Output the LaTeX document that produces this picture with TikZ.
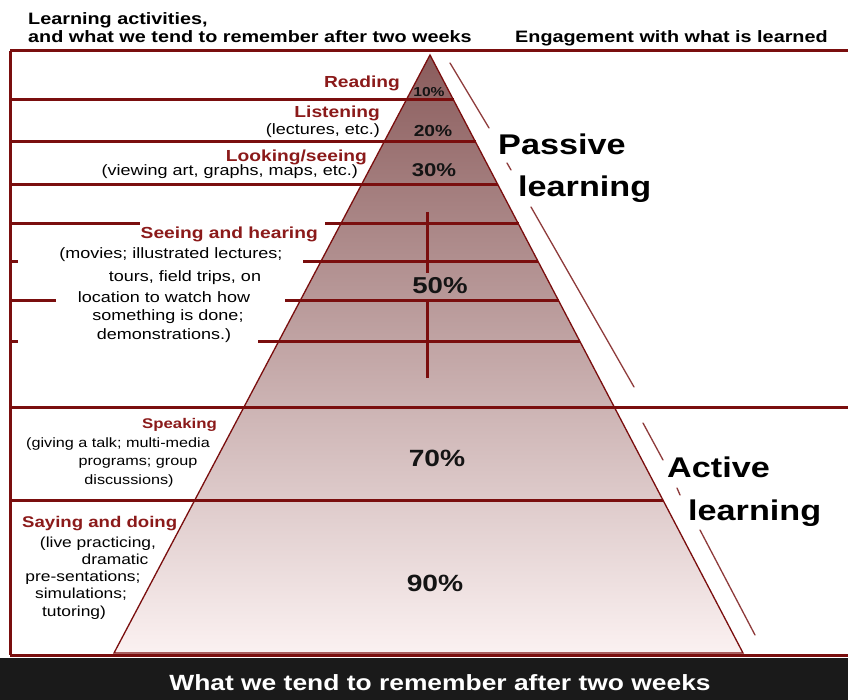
\documentclass[tikz,border=0pt]{standalone}
\usepackage{fontspec}
\setmainfont{Liberation Sans}[FakeStretch=1.2]
\definecolor{pmaroon}{HTML}{7A0E0E}
\definecolor{lblred}{HTML}{8B1A1A}
\definecolor{brkred}{HTML}{8E3B3B}
\definecolor{pyrtop}{HTML}{8A5C5C}
\definecolor{pyrbot}{HTML}{FBF1F1}
\definecolor{band}{HTML}{1A1A1A}
\definecolor{pcttxt}{HTML}{141414}
\newcommand{\fsz}[1]{\fontsize{#1}{#1}\selectfont}
\begin{document}
\begin{tikzpicture}[x=1pt,y=-1pt,
  hline/.style={draw=pmaroon, line width=3pt},
  edge/.style={draw=pmaroon, line width=1.3pt},
  brk/.style={draw=brkred, line width=1.3pt, line cap=round},
  head/.style={font=\fsz{16.5}\bfseries, text=black, inner sep=0pt},
  lbl/.style={font=\fsz{16}\bfseries, text=lblred, inner sep=0pt},
  desc/.style={font=\fsz{15}, text=black, inner sep=0pt},
  sdesc/.style={font=\fsz{13.5}, text=black, inner sep=0pt},
  pct/.style={font=\bfseries, text=pcttxt, inner sep=0pt},
  big/.style={font=\fsz{28.5}\bfseries, text=black, inner sep=0pt}
]
\useasboundingbox (0,0) rectangle (848,700);
\fill[white] (0,0) rectangle (848,700);

% pyramid
\coordinate (apex) at (430,55);
\coordinate (bl) at (114,653);
\coordinate (br) at (743,653);
\shade[top color=pyrtop, bottom color=pyrbot] (apex) -- (br) -- (bl) -- cycle;
\draw[edge] (apex) -- (br) -- (bl) -- cycle;

% frame lines
\coordinate (tl) at (10,51);
\coordinate (tr) at (848,51);
\coordinate (lb) at (10,655);
\coordinate (rb) at (848,655);
\draw[hline] (tl) -- (tr);
\draw[hline] (tl) -- (lb);
\draw[hline] (lb) -- (rb);
\draw[hline] (10,407) -- (848,407);

% section lines
\draw[hline] (10,100) -- (453.6,100);
\draw[hline] (10,142) -- (475.5,142);
\draw[hline] (10,185) -- (498,185);
\draw[hline] (10,224) -- (140,224);
\draw[hline] (325,224) -- (518.5,224);
\draw[hline] (10,262) -- (18,262);
\draw[hline] (303,262) -- (538.3,262);
\draw[hline] (10,301) -- (56,301);
\draw[hline] (285,301) -- (558.8,301);
\draw[hline] (10,341) -- (18,341);
\draw[hline] (258,341) -- (579.7,341);
\draw[hline] (10,500) -- (662.9,500);
\draw[hline] (427,212) -- (427,273);
\draw[hline] (427,300) -- (427,378);

% passive / active brackets
\draw[brk] (450,63) -- (489,128);
\draw[brk] (507,163) -- (511,170);
\draw[brk] (531,207) -- (634,387);
\draw[brk] (643,423) -- (663,460);
\draw[brk] (677,488) -- (680,495);
\draw[brk] (700,530) -- (755,635);

% bottom band
\fill[band] (0,658) rectangle (848,700);
\node[font=\fsz{22}\bfseries, text=white, inner sep=0pt] (foot) at (440,683) {What we tend to remember after two weeks};

% header
\node[head, anchor=base west] (h1) at (28,25) {Learning activities,};
\node[head, anchor=base west] (h2) at (28,43) {and what we tend to remember after two weeks};
\node[head, anchor=base west] (h3) at (515,43) {Engagement with what is learned};

% labels
\node[lbl, anchor=base east] (reading) at (400,88) {Reading};
\node[lbl, anchor=base east] (listening) at (380,118) {Listening};
\node[desc, anchor=base east] (listd) at (380,135) {(lectures, etc.)};
\node[lbl, anchor=base east] (looking) at (367,162) {Looking/seeing};
\node[desc, anchor=base east] (lookd) at (358,176) {(viewing art, graphs, maps, etc.)};
\node[lbl, anchor=base east] (seeing) at (318,239) {Seeing and hearing};
\node[desc, anchor=base] (sd1) at (171,259) {(movies; illustrated lectures;};
\node[desc, anchor=base] (sd2) at (185,282) {tours, field trips, on};
\node[desc, anchor=base] (sd3) at (164,303) {location to watch how};
\node[desc, anchor=base] (sd4) at (168,321) {something is done;};
\node[desc, anchor=base] (sd5) at (164,340) {demonstrations.)};
\node[lbl, font=\fsz{14}\bfseries, anchor=base east] (speaking) at (217,428) {Speaking};
\node[sdesc, anchor=base] (sp1) at (118,447) {(giving a talk; multi-media};
\node[sdesc, anchor=base] (sp2) at (138,465) {programs; group};
\node[sdesc, anchor=base] (sp3) at (129,484) {discussions)};
\node[lbl, font=\fsz{15.5}\bfseries, anchor=base west] (saying) at (22,527) {Saying and doing};
\node[sdesc, font=\fsz{14.5}, anchor=base] (sa1) at (98,547) {(live practicing,};
\node[sdesc, font=\fsz{14.5}, anchor=base] (sa2) at (115,564) {dramatic};
\node[sdesc, font=\fsz{14.5}, anchor=base] (sa3) at (83,581) {pre-sentations;};
\node[sdesc, font=\fsz{14.5}, anchor=base] (sa4) at (81,598) {simulations;};
\node[sdesc, font=\fsz{14.5}, anchor=base] (sa5) at (74,616) {tutoring)};

% percentages
\node[pct, font=\fsz{13}\bfseries] (p10) at (429,92) {10\%};
\node[pct, font=\fsz{16}\bfseries] (p20) at (433,131) {20\%};
\node[pct, font=\fsz{18.5}\bfseries] (p30) at (434,170) {30\%};
\node[pct, font=\fsz{23}\bfseries] (p50) at (440,286) {50\%};
\node[pct, font=\fsz{23.5}\bfseries] (p70) at (437,458) {70\%};
\node[pct, font=\fsz{23.5}\bfseries] (p90) at (435,583) {90\%};

% engagement
\node[big, anchor=base west] (passive) at (498,155) {Passive};
\node[big, anchor=base west] (plearn) at (518,197) {learning};
\node[big, anchor=base west] (active) at (667,477) {Active};
\node[big, anchor=base west] (alearn) at (688,520) {learning};
\end{tikzpicture}
\end{document}
